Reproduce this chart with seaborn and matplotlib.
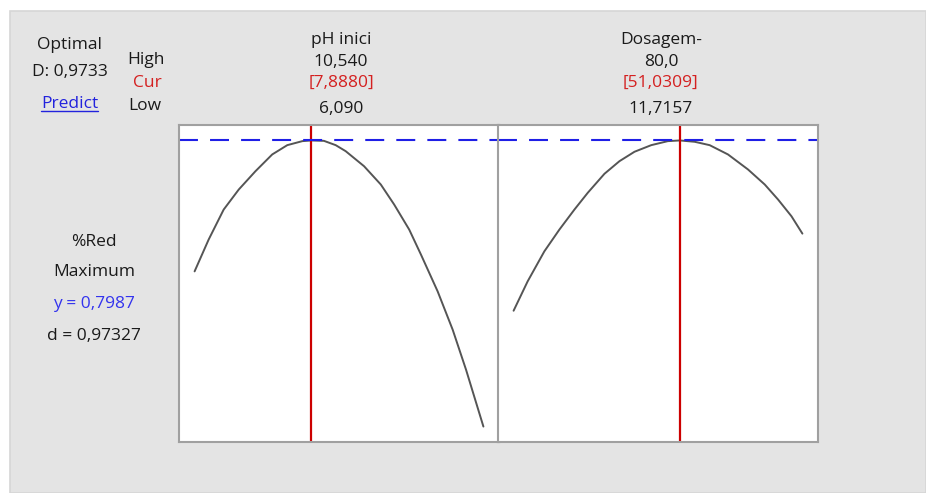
import matplotlib
matplotlib.use("Agg")
import matplotlib.pyplot as plt
from matplotlib.patches import Rectangle
import pandas as pd
import seaborn as sns

# factor names and settings (High / Cur / Low)
factors = ["pH inici", "Dosagem-"]
high_labels = ["10,540", "80,0"]
cur_labels = ["[7,8880]", "[51,0309]"]
low_labels = ["6,090", "11,7157"]
cur_values = [7.888, 51.0309]

# response %Red traced along each factor
ph_x = [6.090, 6.306, 6.538, 6.770, 7.028, 7.286, 7.518, 7.750, 7.888, 8.083,
        8.264, 8.418, 8.701, 8.959, 9.165, 9.397, 9.578, 9.835, 10.067, 10.273,
        10.540]
ph_y = [0.5705, 0.6258, 0.6782, 0.7131, 0.7451, 0.7743, 0.7905, 0.7975, 0.7987,
        0.7980, 0.7905, 0.7800, 0.7538, 0.7219, 0.6870, 0.6433, 0.5997, 0.5356,
        0.4687, 0.3989, 0.3000]
dos_x = [11.7157, 15.032, 18.987, 22.540, 26.093, 29.243, 33.198, 36.751, 40.304,
         44.259, 48.191, 51.0309, 54.517, 58.070, 62.405, 67.142, 71.097, 74.247,
         77.421, 80.0]
dos_y = [0.5019, 0.5530, 0.6054, 0.6433, 0.6782, 0.7074, 0.7406, 0.7626, 0.7790,
         0.7905, 0.7975, 0.7987, 0.7964, 0.7905, 0.7743, 0.7481, 0.7219, 0.6957,
         0.6665, 0.6363]
y_opt = 0.7987

sns.set_style("white")
plt.rcParams["font.family"] = ["Open Sans", "DejaVu Sans"]

W, H = 926, 493
fig = plt.figure(figsize=(W / 100, H / 100), dpi=100)
fig.patches.append(Rectangle((10 / W, 0), 1 - 10 / W, 1 - 11 / H, transform=fig.transFigure,
                             facecolor="#e4e4e4", edgecolor="#d6d6d6", lw=1.2, zorder=-5))

pad = 0.054
ymin, ymax = min(ph_y + dos_y), max(ph_y + dos_y)
yr = ymax - ymin
panels = [(179, ph_x, ph_y), (498, dos_x, dos_y)]
for i, (px, xs, ys) in enumerate(panels):
    ax = fig.add_axes([px / W, 1 - 442 / H, 320 / W, 317 / H])
    ax.set_facecolor("white")
    df = pd.DataFrame({"x": xs, "y": ys})
    sns.lineplot(data=df, x="x", y="y", ax=ax, color="#555555", lw=1.4, sort=False)
    xr = xs[-1] - xs[0]
    ax.set_xlim(xs[0] - pad * xr, xs[-1] + pad * xr)
    ax.set_ylim(ymin - pad * yr, ymax + pad * yr)
    ax.axvline(cur_values[i], color="#cc0000", lw=1.6)
    ax.axhline(y_opt, color="#1f1fe6", lw=1.5, dashes=(9.1, 5.8))
    ax.set_xticks([])
    ax.set_yticks([])
    ax.set_xlabel("")
    ax.set_ylabel("")
    for s in ax.spines.values():
        s.set_color("#a0a0a0")
        s.set_linewidth(1.5)

def txt(x, y, s, color="#1a1a1a", **kw):
    # y is the baseline in pixels from the top
    fig.text(x / W, 1 - y / H, s, ha="center", va="baseline", fontsize=12.5, color=color, **kw)

red = "#d42020"
txt(69.5, 49, "Optimal")
txt(69.5, 76.5, "D: 0,9733")
txt(69.5, 108.5, "Predict", color="#2222dd")
fig.add_artist(plt.Line2D([41 / W, 98 / W], [1 - 111 / H, 1 - 111 / H], color="#2222dd", lw=1))
txt(146, 63.5, "High")
txt(147, 87, "Cur", color=red)
txt(145, 110, "Low")

centers = [341, 661]
for c, name, hi, cu, lo in zip(centers, factors, high_labels, cur_labels, low_labels):
    txt(c, 43.5, name)
    txt(c, 65.5, hi)
    txt(c, 87, cu, color=red)
    txt(c, 113, lo)

txt(94, 246, "%Red")
txt(94, 276.5, "Maximum")
txt(94, 308.5, "y = 0,7987", color="#3333ee")
txt(94, 340, "d = 0,97327")

fig.savefig("out.png", dpi=100, facecolor="white")
